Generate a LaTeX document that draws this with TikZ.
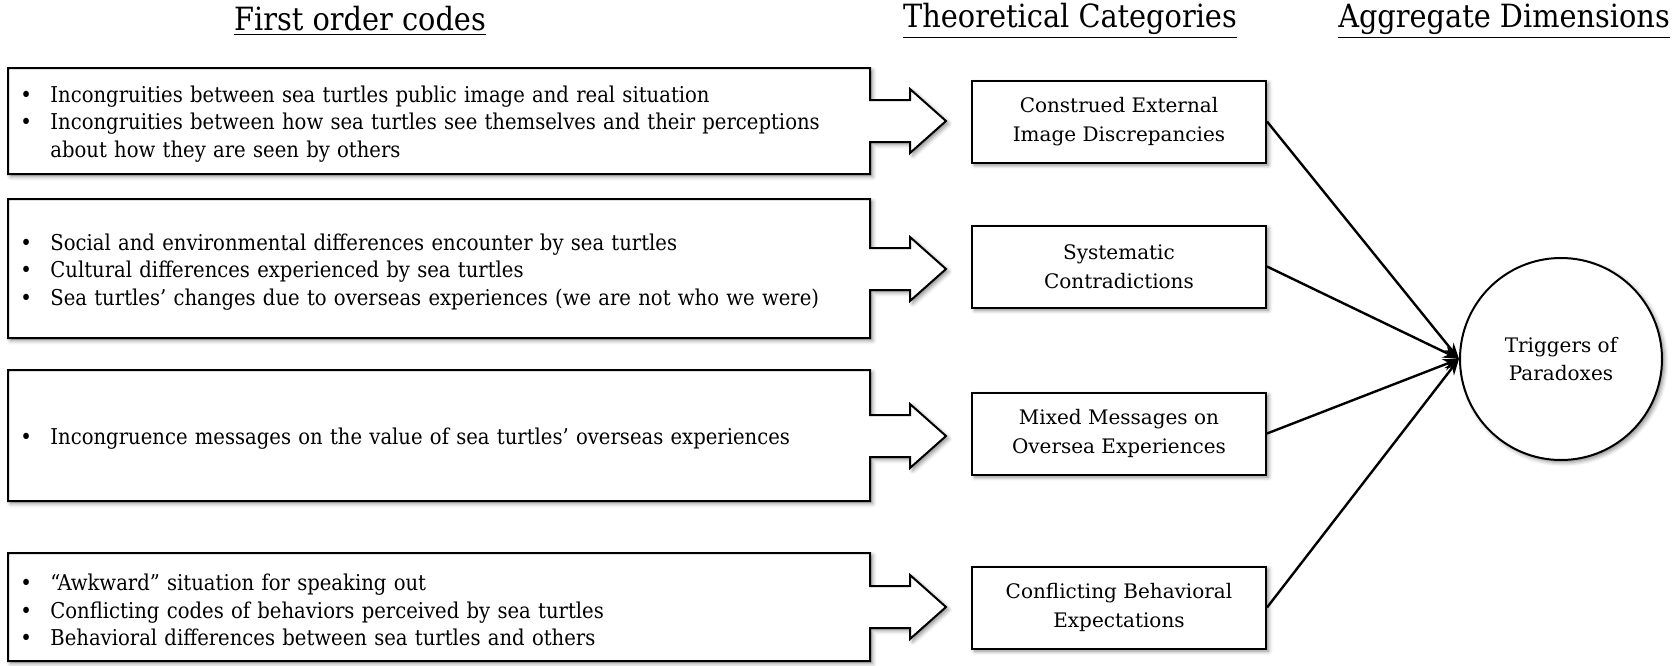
\documentclass[tikz,border=0pt]{standalone}
\usepackage{fontspec}
\setmainfont{DejaVu Serif}
\newfontfamily\condfont{DejaVu Serif Condensed}
\usetikzlibrary{arrows.meta,shadows.blur}
\newcommand{\bitem}[1]{\noindent\hangindent=15pt\hangafter=1\makebox[15pt][l]{•}#1\par}
\tikzset{
  shadowed/.style={draw, fill=white, line width=1pt,
    blur shadow={shadow xshift=1.3pt, shadow yshift=-1.3pt, shadow blur radius=2pt, shadow opacity=45}},
  lefttext/.style={anchor=west, inner sep=0pt, text width=430pt, align=left,
    font=\condfont\fontsize{10.9}{13.8}\selectfont},
  catbox/.style={shadowed, minimum width=147pt, minimum height=41pt, inner sep=2pt, align=center,
    font=\fontsize{10}{14.5}\selectfont},
  title/.style={inner sep=0pt, font=\condfont\fontsize{16}{19}\selectfont},
  conn/.style={line width=1.2pt, -{Stealth[length=8pt,width=6pt]}}
}
\begin{document}
\begin{tikzpicture}[x=0.5pt,y=-0.5pt]
\useasboundingbox (0,0) rectangle (1678,665);
% titles
\node[title] (h1) at (360,21) {\underline{First order codes}};
\node[title] (h2) at (1070,21) {\underline{Theoretical Categories}};
\node[title] (h3) at (1504,21) {\underline{Aggregate Dimensions}};
% left boxes with arrows
\draw[shadowed] (8,68) -- (870,68) -- (870,100) -- (910,100) -- (910,89) -- (946,121) -- (910,153) -- (910,142) -- (870,142) -- (870,174) -- (8,174) -- cycle;
\draw[shadowed] (8,199) -- (870,199) -- (870,248) -- (910,248) -- (910,237) -- (946,269) -- (910,301) -- (910,290) -- (870,290) -- (870,338) -- (8,338) -- cycle;
\draw[shadowed] (8,370) -- (870,370) -- (870,415) -- (910,415) -- (910,404) -- (946,436) -- (910,468) -- (910,457) -- (870,457) -- (870,501) -- (8,501) -- cycle;
\draw[shadowed] (8,553) -- (870,553) -- (870,586) -- (910,586) -- (910,575) -- (946,607) -- (910,639) -- (910,628) -- (870,628) -- (870,661) -- (8,661) -- cycle;
\node[lefttext] (t1) at (20,124) {\bitem{Incongruities between sea turtles public image and real situation}\bitem{Incongruities between how sea turtles see themselves and their perceptions\newline about how they are seen by others}};
\node[lefttext] (t2) at (20,272) {\bitem{Social and environmental differences encounter by sea turtles}\bitem{Cultural differences experienced by sea turtles}\bitem{Sea turtles’ changes due to overseas experiences (we are not who we were)}};
\node[lefttext] (t3) at (20,439) {\bitem{Incongruence messages on the value of sea turtles’ overseas experiences}};
\node[lefttext] (t4) at (20,610) {\bitem{“Awkward” situation for speaking out}\bitem{Conflicting codes of behaviors perceived by sea turtles}\bitem{Behavioral differences between sea turtles and others}};
% categories
\node[catbox] (c1) at (1119,121.5) {Construed External\\Image Discrepancies};
\node[catbox] (c2) at (1119,266.5) {Systematic\\Contradictions};
\node[catbox] (c3) at (1119,433.5) {Mixed Messages on\\Oversea Experiences};
\node[catbox] (c4) at (1119,607.5) {Conflicting Behavioral\\Expectations};
% aggregate
\node[shadowed, circle, minimum size=101pt, inner sep=0pt, align=center, font=\fontsize{10}{14}\selectfont] (trig) at (1561,359) {Triggers of\\Paradoxes};
% connectors
\draw[conn] (c1.east) -- (trig.west);
\draw[conn] (c2.east) -- (trig.west);
\draw[conn] (c3.east) -- (trig.west);
\draw[conn] (c4.east) -- (trig.west);
\end{tikzpicture}
\end{document}
